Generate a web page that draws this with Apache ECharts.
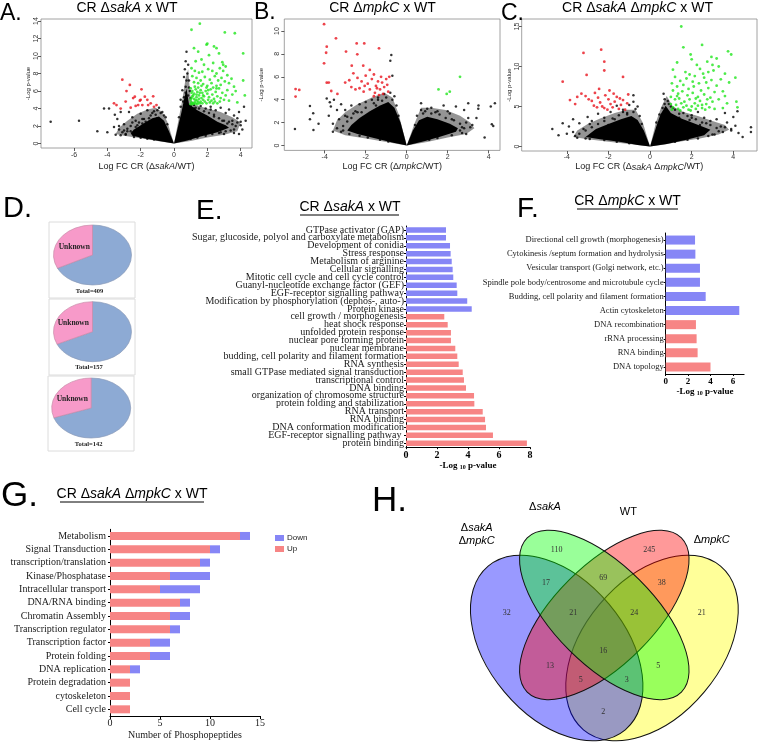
<!DOCTYPE html>
<html><head><meta charset="utf-8">
<script src="https://cdn.jsdelivr.net/npm/echarts@6/dist/echarts.min.js"></script>
<style>html,body{margin:0;padding:0;background:#fff}#c{width:760px;height:745px}</style>
</head><body><div id="c"></div>
<script>
// ---------- DATA ----------
// Volcano A: CR ΔsakA x WT  [logFC, -log p]
const aXTicks = [-6, -4, -2, 0, 2, 4];
const aYTicks = [0, 2, 4, 6, 8, 10, 12, 14];
const aRed = [[-3.6,4.6],[-3.45,4.4],[-3.1,7.3],[-2.85,6.0],[-2.65,6.7],[-2.45,5.2],[-2.35,5.35],[-2.3,4.3],[-2.15,4.4],[-2.05,4.9],[-1.95,6.2],[-1.9,4.4],[-1.75,5.35],[-1.55,4.4],[-1.4,4.6],[-1.25,5.4],[-1.05,4.4],[-2.6,4.1],[-2.0,5.0],[-1.6,5.0],[-3.2,4.0],[-1.2,4.2],[-2.9,4.8]];
const aGreen = [[1.55,13.7],[1.05,13.0],[3.05,12.7],[3.65,12.6],[1.95,11.3],[2.0,11.4],[2.4,11.1],[2.55,10.9],[1.2,10.9],[4.15,10.3],[1.45,10.5],[2.7,10.3],[2.1,10.1],[1.65,9.6],[2.9,9.3],[1.3,9.4],[1.8,9.0],[2.95,9.0],[3.1,8.8],[2.35,9.2],
[1.05,8.6],[1.25,8.3],[1.5,8.1],[1.7,8.2],[2.05,8.5],[2.3,8.3],[2.55,8.0],[2.75,8.6],[2.95,8.3],[3.2,7.8],[3.45,7.4],[1.1,7.7],[1.35,7.5],[1.6,7.2],[1.85,7.6],[2.15,7.3],[2.45,7.7],[2.65,7.2],[2.85,7.5],[3.05,7.1],[1.2,7.0],[1.45,6.9],[1.75,6.8],[2.0,6.6],[2.25,6.9],[2.55,6.6],[2.8,6.7],[3.3,6.9],[3.6,6.5],[4.25,5.5],[4.15,7.2],
[1.0,6.3],[1.1,6.0],[1.2,5.7],[1.3,6.2],[1.4,5.9],[1.5,5.5],[1.6,6.1],[1.7,5.8],[1.8,5.4],[1.9,6.0],[2.0,5.7],[2.1,5.3],[2.2,6.2],[2.3,5.6],[2.4,5.1],[2.5,5.9],[2.6,5.4],[2.7,6.3],[2.8,5.2],[2.9,5.8],[3.0,5.0],[3.1,5.5],[3.3,4.9],[3.5,5.6],[3.8,4.7],[1.0,5.0],[1.05,4.7],[1.1,5.4],[1.15,4.6],[1.2,5.1],[1.25,4.8],[1.3,4.6],[1.35,5.3],[1.4,4.9],[1.45,4.7],[1.5,5.1],[1.55,4.6],[1.6,4.8],[1.65,5.2],[1.7,4.6],[1.75,5.0],[1.85,4.8],[1.95,4.6],[2.05,5.0],[2.15,4.7],[2.25,4.9],[2.35,4.6],[2.45,4.8],[2.6,4.6],[2.75,4.8],[1.05,5.8],[1.15,5.5],[1.25,6.5],[1.35,5.6],[1.45,6.4],[1.55,5.8],[1.65,6.6],[1.75,5.5],[1.95,6.4],[2.05,6.1],[2.35,6.4],[2.55,6.3],[3.2,6.1],[3.7,6.0],[1.0,4.5],[1.1,4.5],[1.2,4.55],[1.4,4.5],[1.05,5.2],[1.3,5.0]];
const aBlack = [[-7.4,2.5],[-5.7,2.6],[-4.6,1.4],[-4.2,4.0],[-4.0,1.3],[-3.9,4.0],[-3.55,3.3],[-3.4,2.8],[-3.2,3.6],[-3.3,2.0],[-3.0,2.2],[-3.1,1.3],[-2.8,1.7],[-2.7,3.6],[-2.5,3.0],[-2.3,2.6],[-2.6,1.4],[-2.0,3.4],[-1.8,2.8],[-1.6,3.8],[-1.4,3.2],[-1.2,3.7],[-1.0,2.9],[-0.9,4.1],[-0.7,3.6],[-2.2,2.1],[-1.9,2.3],[-3.5,1.0],[-2.9,1.0],[-1.5,2.5],
[-0.4,2.2],[-0.5,3.0],[-0.8,3.5],[-1.1,3.3],[-1.5,2.9],[-1.7,2.5],[-2.1,2.4],[-2.3,1.9],[-2.6,2.0],[-2.8,1.4],[-3.0,1.5],[-2.9,1.1],[-2.4,0.75],[-2.0,0.65],[-1.6,0.55],[-1.2,0.45],[-3.3,1.6],[-3.2,0.95],[-1.0,3.8],[-0.6,3.2],[-1.3,3.5],[-1.9,2.8],[-2.5,2.4],[-3.6,1.9],
[0.75,10.5],[0.7,9.4],[0.85,9.0],[0.65,8.5],[0.8,8.0],[0.6,7.6],[0.9,7.2],[0.7,6.5],[0.95,6.0],[0.5,6.1],[0.85,5.5],[0.4,5.0],[0.6,5.3],[1.0,4.3],[1.3,4.1],[1.6,4.3],[1.9,4.0],[2.2,4.2],[2.5,3.8],[2.8,4.1],[3.1,3.5],[3.3,3.9],[3.6,3.2],[3.5,2.6],[3.8,2.9],[4.0,2.1],[4.3,2.6],[4.1,1.6],[3.9,1.1],[3.6,1.2],[3.0,1.1],[2.6,1.6],[3.2,2.3],[2.9,2.6],[2.4,3.1],[2.0,2.8],[1.7,3.3],[1.4,3.5],[1.1,3.6],[4.2,4.2],[3.9,3.6],[2.7,1.2],
[0.3,3.0],[0.4,4.2],[0.55,4.8],[0.7,5.8],[0.75,7.2],[0.9,6.4],[1.0,5.2],[1.2,4.4],[1.5,4.0],[1.8,3.7],[2.1,3.5],[2.4,3.3],[2.7,2.9],[3.0,2.6],[3.3,2.5],[3.5,2.2],[3.7,2.0],[3.4,1.5],[3.1,1.4],[2.8,1.3],[2.3,1.1],[1.9,0.9],[1.4,0.7],[1.0,0.55],[3.8,2.4],[4.0,2.5],[2.2,3.9],[1.2,4.0],[3.6,1.6]];
const aCoreLeft = [[0,0],[-0.3,1.4],[-0.6,2.6],[-0.9,3.1],[-1.3,2.9],[-1.9,2.2],[-2.4,1.6],[-2.6,1.2],[-2.5,0.9],[-1.8,0.6],[-0.9,0.3]];
const aCoreRight = [[0,0],[0.25,2.0],[0.45,3.6],[0.6,5.0],[0.75,6.3],[0.9,4.5],[1.4,3.8],[2.0,3.2],[2.6,2.5],[3.1,2.1],[3.3,1.8],[2.6,1.3],[1.6,0.8],[0.8,0.35]];
const aHaloLeft = [[0,0],[-0.4,2.5],[-0.7,3.6],[-1.1,4.1],[-1.6,3.9],[-2.2,3.4],[-2.8,2.6],[-3.3,1.8],[-3.5,1.1],[-3.0,0.9],[-2.0,0.6],[-1.0,0.3]];
const aHaloRight = [[0,0],[0.3,3.0],[0.5,5.0],[0.7,7.5],[0.85,8.5],[1.0,5.0],[1.3,4.4],[2.0,4.0],[2.8,3.6],[3.5,3.0],[4.0,2.4],[3.8,1.4],[3.0,1.0],[2.0,0.7],[1.0,0.3]];

// Volcano B: CR ΔmpkC x WT
const bXTicks = [-4, -2, 0, 2, 4];
const bYTicks = [0, 2, 4, 6, 8, 10];
const bRed = [[-4.03,10.6],[-3.45,9.36],[-3.9,8.63],[-3.93,8.1],[-2.96,8.2],[-2.44,8.92],[-2.07,8.92],[-2.41,7.96],[-1.35,8.49],[-2.68,6.97],[-2.12,6.97],[-4.03,7.18],[-3.9,5.49],[-3.8,5.5],[-3.68,4.76],[-3.38,4.5],[-5.42,4.93],[-5.24,4.85],[-5.42,4.27],
[-2.6,6.3],[-2.4,5.9],[-2.2,5.6],[-2.0,6.1],[-1.9,5.4],[-1.7,5.8],[-1.6,6.2],[-1.5,5.2],[-1.4,5.6],[-1.3,4.9],[-1.2,5.5],[-1.1,5.1],[-1.0,5.8],[-0.9,4.7],[-2.3,5.0],[-2.1,4.7],[-1.8,4.9],[-1.55,4.6],[-1.35,4.4],[-1.15,4.5],[-2.8,5.7],[-2.5,4.9],[-3.0,5.5],[-1.8,6.6],[-1.6,4.3],[-2.05,5.2],[-1.25,6.0],[-0.95,5.3],[-1.45,5.0],[-2.7,5.1],[-0.85,6.0]];
const bGreen = [[2.6,6.0],[1.55,4.9],[1.95,4.5],[2.1,4.7]];
const bBlack = [[-5.45,1.44],[-4.72,3.45],[-4.56,2.81],[-4.72,2.29],[-4.55,1.35],[-3.75,3.77],[-3.7,3.4],[-3.55,4.0],[-3.4,3.1],[-3.8,2.6],[-3.6,1.9],[-3.3,2.3],[-3.2,3.6],[-3.0,3.1],[-2.9,2.5],[-2.7,3.5],[-2.5,3.0],[-2.3,3.6],[-2.0,3.8],[-1.7,4.0],[-1.4,4.2],[-1.1,4.5],[-0.8,4.6],[-0.7,6.1],[-0.75,7.9],[-0.8,7.4],[-3.6,1.2],[-3.1,1.3],[-2.2,2.9],[-1.9,2.6],[-1.5,3.5],[-1.2,3.1],[-3.9,4.1],[-4.3,1.9],
[-0.4,2.6],[-0.5,3.5],[-0.7,4.0],[-1.0,4.2],[-1.2,3.9],[-1.6,3.7],[-2.0,3.3],[-2.4,2.9],[-2.7,2.4],[-2.9,2.1],[-3.1,1.7],[-3.2,1.2],[-2.8,1.0],[-2.3,0.85],[-1.9,0.7],[-1.3,0.5],[-0.9,0.35],[-3.4,1.5],[-2.6,2.8],[-1.4,4.0],[-0.6,4.3],[-3.0,2.6],
[0.7,3.7],[0.9,3.0],[1.2,3.3],[1.5,3.0],[1.8,3.5],[2.1,2.8],[2.4,3.4],[2.8,3.1],[3.0,2.4],[3.5,3.5],[3.4,2.4],[3.2,1.8],[2.7,1.6],[2.6,1.3],[2.9,1.0],[4.3,3.7],[4.15,1.85],[4.1,3.4],[3.0,3.7],[2.2,2.3],[1.4,2.9],[3.8,0.7],[4.22,1.7],[3.49,3.2],
[0.4,1.8],[0.5,2.6],[0.8,2.8],[1.2,2.8],[1.6,2.7],[1.9,2.4],[2.3,2.2],[2.6,1.9],[2.8,1.5],[2.7,1.1],[2.2,0.9],[1.5,0.65],[1.1,0.5],[0.7,3.1],[2.9,2.0],[3.1,1.6],[2.0,3.0],[1.0,3.2]];
const bCoreLeft = [[0,0],[-0.3,2.0],[-0.6,3.3],[-0.9,3.8],[-1.3,3.5],[-1.8,3.0],[-2.3,2.4],[-2.7,1.8],[-2.9,1.3],[-2.4,1.0],[-1.5,0.6],[-0.7,0.25]];
const bCoreRight = [[0,0],[0.3,1.3],[0.6,2.2],[1.0,2.5],[1.5,2.3],[2.1,1.9],[2.5,1.5],[2.4,1.2],[1.7,0.8],[0.9,0.4]];
const bHaloLeft = [[0,0],[-0.4,2.8],[-0.7,4.2],[-1.1,4.6],[-1.7,4.2],[-2.4,3.6],[-3.0,2.9],[-3.4,2.2],[-3.6,1.3],[-3.0,0.9],[-2.0,0.6],[-1.0,0.3]];
const bHaloRight = [[0,0],[0.4,2.0],[0.7,3.3],[1.2,3.3],[1.9,3.1],[2.6,2.6],[3.1,2.0],[3.3,1.5],[2.9,1.0],[2.0,0.7],[1.0,0.3]];

// Volcano C: CR ΔsakA ΔmpkC x WT
const cXTicks = [-4, -2, 0, 2, 4];
const cYTicks = [0, 5, 10, 15];
const cRed = [[-4.2,8.1],[-3.2,11.7],[-2.35,12.1],[-2.2,10.6],[-2.2,9.5],[-3.05,8.95],[-1.3,8.7],[-3.6,5.3],[-3.5,6.2],[-3.3,6.6],[-3.1,6.3],[-2.95,5.9],[-2.8,5.7],[-2.65,6.7],[-2.5,6.1],[-2.4,5.5],[-2.3,5.0],[-2.2,4.8],[-2.15,6.4],[-2.0,5.9],[-1.9,5.3],[-1.8,4.9],[-1.7,5.6],[-1.6,6.2],[-1.5,4.7],[-1.4,5.2],[-1.3,5.8],[-1.2,4.6],[-1.1,5.4],[-1.05,6.5],[-2.55,4.9],[-2.05,4.6],[-1.75,6.6],[-1.45,6.0],[-3.85,5.8],[-2.7,5.1],[-1.95,7.0],[-2.45,7.2]];
const cGreen = [[1.5,15.0],[1.6,12.4],[2.5,12.7],[3.75,11.9],[3.9,11.5],[2.95,11.2],[3.2,11.0],[2.0,10.9],[2.75,10.6],[2.25,10.2],[1.3,10.5],[3.3,10.0],[1.1,9.6],[1.7,9.3],[2.4,9.7],[2.8,9.3],[3.05,9.5],[3.6,9.1],[1.9,9.0],[2.15,8.8],[2.6,8.6],[3.4,8.4],[3.8,8.0],[4.1,8.6],[1.2,8.7],[1.45,8.2],[1.75,8.5],[2.05,8.1],[2.35,7.9],[2.7,8.0],[2.95,8.3],[3.2,7.6],[1.05,7.9],[1.3,7.5],[1.6,7.7],[1.85,7.2],[2.1,7.5],[2.45,7.0],[2.8,7.3],[3.1,6.8],[3.5,6.9],[1.1,7.0],[1.35,6.6],[1.55,6.9],[1.8,6.4],[2.05,6.7],[2.3,6.2],[2.6,6.5],[2.9,6.1],[3.3,5.9],[3.7,5.4],[4.2,4.9],[4.15,5.6],[1.0,6.2],[1.2,5.9],[1.4,6.0],[1.65,5.6],[1.9,5.9],[2.15,5.4],[2.4,5.7],[2.7,5.3],[3.0,5.6],[3.5,4.8],[1.0,5.3],[1.1,4.9],[1.25,5.2],[1.35,4.7],[1.5,5.4],[1.6,4.9],[1.75,5.1],[1.85,4.6],[2.0,5.0],[2.2,4.7],[2.3,5.1],[2.5,4.8],[2.65,4.6],[2.85,4.9],[3.1,4.7],[1.05,4.6],[1.45,4.5],[1.95,4.5],[2.75,5.9],[3.6,6.3],[2.55,9.1],[1.95,11.5],[3.0,10.2],[1.3,6.3],[2.2,6.0],[2.5,5.2]];
const cBlack = [[-4.7,2.2],[-4.0,1.6],[-4.4,1.4],[-3.9,2.5],[-3.4,2.9],[-3.0,3.7],[-2.5,4.1],[-2.8,3.2],[-3.2,2.2],[-2.2,3.6],[-1.9,4.3],[-1.6,5.1],[-1.3,4.6],[-1.0,5.2],[-0.8,6.4],[-0.8,5.6],[-0.6,5.0],[-1.1,4.2],[-2.0,2.7],[-2.6,1.9],[-3.6,1.3],[-3.1,1.0],[-1.7,3.4],[-2.3,1.5],[-4.2,2.9],[-3.7,3.4],
[-0.4,2.8],[-0.5,3.8],[-0.8,4.3],[-1.1,4.0],[-1.5,3.9],[-1.8,3.5],[-2.2,3.2],[-2.5,2.8],[-2.8,2.4],[-3.1,2.0],[-3.4,1.6],[-3.5,1.1],[-2.9,0.95],[-2.2,0.8],[-1.6,0.6],[-1.0,0.4],[-3.7,1.8],[-2.9,2.8],[-1.3,4.3],[-0.7,4.7],
[0.65,6.6],[0.7,5.9],[0.9,5.3],[1.2,4.6],[1.6,4.2],[2.0,3.9],[2.3,4.3],[2.6,3.6],[2.9,3.2],[2.7,2.9],[3.4,2.5],[3.2,3.4],[3.7,3.0],[4.0,3.7],[4.25,1.7],[4.85,2.4],[4.85,1.8],[3.9,2.2],[3.5,1.8],[3.0,1.5],[3.6,4.2],[4.2,4.4],[1.9,3.3],[1.4,3.6],[2.4,2.7],[4.45,1.2],
[0.3,3.0],[0.45,4.0],[0.6,4.8],[0.7,5.3],[0.85,5.7],[1.1,4.8],[1.4,4.1],[1.8,3.8],[2.2,3.4],[2.5,3.0],[2.9,2.7],[3.2,2.3],[3.3,1.9],[3.1,1.5],[2.8,1.3],[2.3,1.0],[1.8,0.85],[1.2,0.6],[3.6,2.4],[3.9,2.0],[4.1,2.6],[2.0,3.6],[1.0,5.0]];
const cCoreLeft = [[0,0],[-0.3,2.0],[-0.6,3.3],[-0.9,3.8],[-1.4,3.4],[-2.0,2.8],[-2.6,2.2],[-2.9,1.6],[-3.1,1.2],[-2.4,0.9],[-1.4,0.55],[-0.6,0.2]];
const cCoreRight = [[0,0],[0.3,2.5],[0.5,4.0],[0.75,5.1],[1.0,4.2],[1.5,3.5],[2.1,2.9],[2.6,2.4],[2.9,2.1],[2.6,1.4],[1.7,0.8],[0.8,0.3]];
const cHaloLeft = [[0,0],[-0.35,3.0],[-0.7,4.6],[-1.1,4.6],[-1.7,4.2],[-2.4,3.5],[-3.0,2.8],[-3.5,2.0],[-3.7,1.2],[-3.0,0.9],[-2.0,0.6],[-1.0,0.3]];
const cHaloRight = [[0,0],[0.3,3.2],[0.55,5.0],[0.8,6.3],[1.1,5.0],[1.6,4.3],[2.3,3.8],[3.0,3.2],[3.6,2.7],[3.8,2.1],[3.3,1.5],[2.4,1.0],[1.4,0.6],[0.7,0.25]];

// D: pies (unknown vs total)
const pieTotals = [409, 157, 142];
const pieUnknown = [132, 50, 43];

// E: CR ΔsakA x WT  (-log10 p)
const eBlueCats = ['GTPase activator (GAP)','Sugar, glucoside, polyol and carboxylate metabolism','Development of conidia','Stress response','Metabolism of arginine','Cellular signalling','Mitotic cell cycle and cell cycle control','Guanyl-nucleotide exchange factor (GEF)','EGF-receptor signalling pathway','Modification by phosphorylation (dephos-, auto-)','Protein kinase'];
const eBlueVals = [2.58, 2.58, 2.84, 2.88, 2.95, 3.01, 3.05, 3.27, 3.31, 3.95, 4.24];
const eRedCats = ['cell growth / morphogenesis','heat shock response','unfolded protein response','nuclear pore forming protein','nuclear membrane','budding, cell polarity and filament formation','RNA synthesis','small GTPase mediated signal transduction','transcriptional control','DNA binding','organization of chromosome structure','protein folding and stabilization','RNA transport','RNA binding','DNA conformation modification','EGF-receptor signalling pathway ','protein binding'];
const eRedVals = [2.47, 2.69, 2.9, 2.9, 3.18, 3.31, 3.4, 3.66, 3.74, 3.87, 4.39, 4.41, 4.95, 5.1, 5.16, 5.61, 7.8];

// F: CR ΔmpkC x WT
const fBlueCats = ['Directional cell growth (morphogenesis)','Cytokinesis /septum formation and hydrolysis','Vesicular transport (Golgi network, etc.)','Spindle pole body/centrosome and microtubule cycle','Budding, cell polarity and filament formation','Actin cytoskeleton'];
const fBlueVals = [2.62, 2.65, 3.06, 3.06, 3.57, 6.57];
const fRedCats = ['DNA recombination','rRNA processing','RNA binding','DNA topology'];
const fRedVals = [2.7, 2.76, 2.85, 4.0];

// G: CR ΔsakA ΔmpkC x WT
const gCats = ['Metabolism','Signal Transduction','transcription/translation','Kinase/Phosphatase','Intracellular transport','DNA/RNA binding','Chromatin Assembly','Transcription regulator','Transcription factor','Protein folding','DNA replication','Protein degradation','cytoskeleton','Cell cycle'];
const gUp   = [13, 10, 9, 6, 5, 7, 6, 6, 4, 4, 2, 2, 2, 2];
const gDown = [1, 1, 1, 4, 4, 1, 2, 1, 2, 2, 1, 0, 0, 0];

// H: Venn counts
const vennSets = ['ΔmpkC', 'ΔsakA ΔmpkC', 'WT', 'ΔsakA'];   // drawing order
const vennCounts = [32, 110, 245, 21, 17, 69, 38, 13, 5, 2, 21, 24, 5, 3, 16];

// ---------- LAYOUT / STYLE ----------
const SANS = 'Liberation Sans, Arial, sans-serif';
const SERIF = 'Liberation Serif, Times New Roman, serif';
const BLUE = '#8686f6', RED = '#f78585';

const pieLayout = [
  {cx:92.5, cy:255,   rx:39,   ry:30, box:[49,222,86,76], ux:74.3, uy:247,   tx:89.5, ty:291},
  {cx:92.5, cy:331.7, rx:39,   ry:30, box:[49,299,86,76], ux:73.3, uy:323.3, tx:89,   ty:367.7},
  {cx:91.2, cy:408,   rx:39.5, ry:30, box:[48,376,86,75], ux:72.3, uy:399.3, tx:88.7, ty:444}
];
const vennEllipse = {
  'ΔmpkC':       {cx:652,   cy:648, a:106.7, b:68.3, rot: 0.873, color:'rgba(255,255,0,0.4)'},
  'ΔsakA ΔmpkC': {cx:556.7, cy:648, a:106.7, b:68.3, rot:-0.873, color:'rgba(0,0,255,0.4)'},
  'WT':          {cx:604.3, cy:615, a:109,   b:49.7, rot: 0.785, color:'rgba(255,0,0,0.4)'},
  'ΔsakA':       {cx:604.3, cy:615, a:109,   b:49.7, rot:-0.785, color:'rgba(0,255,0,0.4)'}
};
const vennLabelPos = [[506.7,613.3],[556.7,550],[649.3,550],[701.7,613.3],[546,583.3],[603.3,578.3],[661.7,583.3],[550,666],[658.3,666],[603.3,711.7],[573.3,613.3],[634.3,613.3],[580.7,680],[626.7,680],[603.3,651]];

const italicRich = (size) => ({
  n: {fontSize:size, fontFamily:SANS, color:'#222'},
  i: {fontSize:size, fontFamily:SANS, color:'#222', fontStyle:'italic'}
});

function volcanoAxes(gi, xmin, xmax, ymin, ymax, xt, yt, xname, opt) {
  const x = {
    gridIndex:gi, type:'value', min:xmin, max:xmax,
    axisLine:{show:false, onZero:false}, splitLine:{show:false},
    axisTick:{show:true, customValues:xt, length:3, lineStyle:{color:'#333', width:0.8}},
    axisLabel:{customValues:xt, fontSize:7, color:'#333', fontFamily:SANS, margin:opt.xm},
    name:xname, nameLocation:'middle', nameGap:opt.xg,
    nameTextStyle:{rich:italicRich(9), fontSize:9}
  };
  const y = {
    gridIndex:gi, type:'value', min:ymin, max:ymax,
    axisLine:{show:false, onZero:false}, splitLine:{show:false},
    axisTick:{show:true, customValues:yt, length:3, lineStyle:{color:'#333', width:0.8}},
    axisLabel:{customValues:yt, fontSize:7, color:'#333', fontFamily:SANS, rotate:90, margin:opt.ym},
    name:'-Log p-value', nameLocation:'middle', nameGap:opt.yg, nameRotate:90,
    nameTextStyle:{fontSize:6, color:'#222', fontFamily:SANS}
  };
  return [x, y];
}
function volcanoSeries(i, black, red, green, haloL, haloR, coreL, coreR) {
  const sc = (d, c, z, s) => ({type:'scatter', xAxisIndex:i, yAxisIndex:i, data:d, symbol:'circle', symbolSize:s,
    itemStyle:{color:c}, silent:true, z:z, animation:false});
  const poly = (api, pts, fill) => ({type:'polygon', shape:{points: pts.map(v => api.coord(v))}, style:{fill:fill}});
  return [
    {type:'custom', xAxisIndex:i, yAxisIndex:i, data:[[0,0]], silent:true, z:1, animation:false,
      renderItem:(p, api) => ({type:'group', children:[
        poly(api, haloL, 'rgba(0,0,0,0.42)'), poly(api, haloR, 'rgba(0,0,0,0.42)'),
        poly(api, coreL, '#000'), poly(api, coreR, '#000')]})},
    sc(black, '#000', 2, 2.5), sc(red, '#e8141e', 3, 2.8), sc(green, '#22e61e', 3, 2.8)
  ];
}

const [axA, ayA] = volcanoAxes(0, -7.98, 4.68, -0.51, 14.23, aXTicks, aYTicks, '{n|Log FC CR (Δ}{i|sakA}{n|/WT)}', {xm:4, xg:14, ym:1.5, yg:8});
const [axB, ayB] = volcanoAxes(1, -5.97, 4.55, -0.43, 11.05, bXTicks, bYTicks, '{n|Log FC CR (Δ}{i|mpkC}{n|/WT)}', {xm:3, xg:12, ym:4, yg:20});
const [axC, ayC] = volcanoAxes(2, -6.17, 5.14, -0.56, 15.94, cXTicks, cYTicks, '{n|Log FC CR (Δ}{i|sakA}{n| Δ}{i|mpkC}{n|/WT)}', {xm:3, xg:11.5, ym:1.5, yg:7});

const catAxis = (gi, cats, size, gap) => ({
  gridIndex:gi, type:'category', data:cats, inverse:true,
  axisLine:{show:true, lineStyle:{color:'#000', width:1}},
  axisTick:{show:true, length:2, alignWithLabel:true, lineStyle:{color:'#000'}},
  axisLabel:{interval:0, fontSize:size, fontFamily:SERIF, color:'#1a1a1a', margin:gap}
});
const pvalName = (size) => ({
  name:'{a|-Log }{s|10}{a| p-value}', nameLocation:'middle',
  nameTextStyle:{rich:{a:{fontSize:size, fontFamily:SERIF, fontWeight:'bold', color:'#000'},
                       s:{fontSize:size-3, fontFamily:SERIF, fontWeight:'bold', color:'#000', padding:[3,0,0,0]}}}
});

const eCats = eBlueCats.concat(eRedCats);
const fCats = fBlueCats.concat(fRedCats);
const pad = (n) => Array(n).fill('-');

const option = {
  animation:false,
  backgroundColor:'#fff',
  grid:[
    {left:41, top:19, width:211, height:129, show:true, borderColor:'#8a8a8a', borderWidth:0.8},
    {left:284.3, top:19, width:215.7, height:131.4, show:true, borderColor:'#8a8a8a', borderWidth:0.8},
    {left:521.7, top:19, width:235.3, height:132, show:true, borderColor:'#8a8a8a', borderWidth:0.8},
    {left:406, top:226, width:124, height:221.2},
    {left:665.7, top:233, width:78.4, height:141},
    {left:110, top:529.3, width:150, height:186.7}
  ],
  xAxis:[axA, axB, axC,
    Object.assign({gridIndex:3, type:'value', min:0, max:8, interval:2, splitLine:{show:false},
      axisLine:{show:true, lineStyle:{color:'#000'}}, axisTick:{show:true, length:2, lineStyle:{color:'#000'}},
      axisLabel:{fontSize:10, fontFamily:SERIF, fontWeight:'bold', color:'#000', margin:3}, nameGap:13}, pvalName(9)),
    Object.assign({gridIndex:4, type:'value', min:0, max:7, splitLine:{show:false},
      axisLine:{show:true, lineStyle:{color:'#000'}}, axisTick:{show:true, length:2, customValues:[0,2,4,6], lineStyle:{color:'#000'}},
      axisLabel:{customValues:[0,2,4,6], fontSize:9, fontFamily:SERIF, fontWeight:'bold', color:'#000', margin:3}, nameGap:13}, pvalName(9)),
    {gridIndex:5, type:'value', min:0, max:15, interval:5, splitLine:{show:false},
      axisLine:{show:true, lineStyle:{color:'#000'}}, axisTick:{show:true, length:3, lineStyle:{color:'#000'}},
      axisLabel:{fontSize:10, fontFamily:SERIF, color:'#222', margin:2},
      name:'Number of Phosphopeptides', nameLocation:'middle', nameGap:14,
      nameTextStyle:{fontSize:10, fontFamily:SERIF, color:'#222'}}
  ],
  yAxis:[ayA, ayB, ayC, catAxis(3, eCats, 10, 2), catAxis(4, fCats, 8.5, 2), catAxis(5, gCats, 10, 4)],
  legend:{data:['Down','Up'], left:270, top:529, orient:'vertical', itemWidth:9, itemHeight:6, itemGap:3,
    icon:'rect', textStyle:{fontSize:8, fontFamily:SANS, color:'#222', padding:[0,0,0,-2]}},
  series:[].concat(
    volcanoSeries(0, aBlack, aRed, aGreen, aHaloLeft, aHaloRight, aCoreLeft, aCoreRight),
    volcanoSeries(1, bBlack, bRed, bGreen, bHaloLeft, bHaloRight, bCoreLeft, bCoreRight),
    volcanoSeries(2, cBlack, cRed, cGreen, cHaloLeft, cHaloRight, cCoreLeft, cCoreRight),
    [
      {type:'bar', xAxisIndex:3, yAxisIndex:3, stack:'e', data:eBlueVals.concat(pad(eRedVals.length)), itemStyle:{color:BLUE}, barCategoryGap:'30%'},
      {type:'bar', xAxisIndex:3, yAxisIndex:3, stack:'e', data:pad(eBlueVals.length).concat(eRedVals), itemStyle:{color:RED}, barCategoryGap:'30%'},
      {type:'bar', xAxisIndex:4, yAxisIndex:4, stack:'f', data:fBlueVals.concat(pad(fRedVals.length)), itemStyle:{color:BLUE}, barCategoryGap:'36%'},
      {type:'bar', xAxisIndex:4, yAxisIndex:4, stack:'f', data:pad(fBlueVals.length).concat(fRedVals), itemStyle:{color:RED}, barCategoryGap:'36%'},
      {type:'bar', name:'Up', xAxisIndex:5, yAxisIndex:5, stack:'g', data:gUp, itemStyle:{color:RED}, barCategoryGap:'40%'},
      {type:'bar', name:'Down', xAxisIndex:5, yAxisIndex:5, stack:'g', data:gDown, itemStyle:{color:BLUE}, barCategoryGap:'40%'},
      // D: pies
      {type:'custom', coordinateSystem:'none', silent:true,
        data: pieUnknown.map((u, i) => [u, pieTotals[i]]),
        renderItem:(p, api) => {
          const L = pieLayout[p.dataIndex];
          const f = api.value(0) / api.value(1);
          const top = -Math.PI / 2;
          return {type:'group', children:[
            {type:'rect', shape:{x:L.box[0], y:L.box[1], width:L.box[2], height:L.box[3]}, style:{fill:'#fff', stroke:'#dcdcdc', lineWidth:1}},
            {type:'group', x:L.cx, y:L.cy, scaleX:L.rx / L.ry, children:[
              {type:'sector', shape:{cx:0, cy:0, r:L.ry, r0:0, startAngle:top, endAngle:top + (1 - f) * 2 * Math.PI, clockwise:true},
               style:{fill:'#8daad4', stroke:'#8a9ab8', lineWidth:0.6}},
              {type:'sector', shape:{cx:0, cy:0, r:L.ry, r0:0, startAngle:top - f * 2 * Math.PI, endAngle:top, clockwise:true},
               style:{fill:'#f79ac9', stroke:'#c889a8', lineWidth:0.6}}
            ]},
            {type:'text', x:L.ux, y:L.uy, style:{text:'Unknown', fontSize:7.5, fontWeight:'bold', fontFamily:SERIF, fill:'#222', align:'center', verticalAlign:'middle'}},
            {type:'text', x:L.tx, y:L.ty, style:{text:'Total=' + api.value(1), fontSize:6.5, fontWeight:'bold', fontFamily:SERIF, fill:'#222', align:'center', verticalAlign:'middle'}}
          ]};
        }},
      // H: Venn ellipses
      {type:'custom', coordinateSystem:'none', silent:true, data: vennSets.map((s, i) => [i]),
        renderItem:(p, api) => {
          const E = vennEllipse[vennSets[p.dataIndex]];
          return {type:'ellipse', x:E.cx, y:E.cy, rotation:E.rot, shape:{cx:0, cy:0, rx:E.a, ry:E.b},
            style:{fill:E.color, stroke:'#111', lineWidth:1}};
        }},
      // H: Venn counts
      {type:'custom', coordinateSystem:'none', silent:true, z:5, data: vennCounts.map(v => [v]),
        renderItem:(p, api) => {
          const P = vennLabelPos[p.dataIndex];
          return {type:'text', x:P[0], y:P[1], style:{text:String(api.value(0)), fontSize:8, fontFamily:SERIF, fill:'#333', align:'center', verticalAlign:'middle'}};
        }}
    ]
  ),
  graphic:[
    {type:'text', x:0, y:13.5, style:{text:'A.', fontSize:23, fontFamily:SANS, fill:'#000', verticalAlign:'middle'}},
    {type:'text', x:254, y:13, style:{text:'B.', fontSize:23, fontFamily:SANS, fill:'#000', verticalAlign:'middle'}},
    {type:'text', x:501, y:13.5, style:{text:'C.', fontSize:23, fontFamily:SANS, fill:'#000', verticalAlign:'middle'}},
    {type:'text', x:3, y:209, style:{text:'D.', fontSize:29, fontFamily:SANS, fill:'#000', verticalAlign:'middle'}},
    {type:'text', x:196, y:211, style:{text:'E.', fontSize:28, fontFamily:SANS, fill:'#000', verticalAlign:'middle'}},
    {type:'text', x:517, y:209, style:{text:'F.', fontSize:28, fontFamily:SANS, fill:'#000', verticalAlign:'middle'}},
    {type:'text', x:1, y:496.5, style:{text:'G.', fontSize:35, fontFamily:SANS, fill:'#000', verticalAlign:'middle'}},
    {type:'text', x:372, y:501.5, style:{text:'H.', fontSize:35, fontFamily:SANS, fill:'#000', verticalAlign:'middle'}},
    {type:'text', x:127, y:8, style:{text:'{n|CR Δ}{i|sakA}{n| x WT}', rich:italicRich(14), align:'center', verticalAlign:'middle'}},
    {type:'text', x:382.5, y:8, style:{text:'{n|CR Δ}{i|mpkC}{n| x WT}', rich:italicRich(14), align:'center', verticalAlign:'middle'}},
    {type:'text', x:637.5, y:8, style:{text:'{n|CR Δ}{i|sakA}{n| Δ}{i|mpkC}{n| x WT}', rich:italicRich(14), align:'center', verticalAlign:'middle'}},
    {type:'text', x:350, y:207, style:{text:'{n|CR Δ}{i|sakA}{n| x WT}', rich:italicRich(14), align:'center', verticalAlign:'middle'}},
    {type:'line', shape:{x1:300, y1:215, x2:399, y2:215}, style:{stroke:'#000', lineWidth:1}},
    {type:'text', x:627.5, y:201, style:{text:'{n|CR Δ}{i|mpkC}{n| x WT}', rich:italicRich(14), align:'center', verticalAlign:'middle'}},
    {type:'line', shape:{x1:577, y1:209, x2:678, y2:209}, style:{stroke:'#000', lineWidth:1}},
    {type:'text', x:132, y:494, style:{text:'{n|CR Δ}{i|sakA}{n| Δ}{i|mpkC}{n| x WT}', rich:italicRich(14), align:'center', verticalAlign:'middle'}},
    {type:'line', shape:{x1:60, y1:502, x2:204, y2:502}, style:{stroke:'#000', lineWidth:1}},
    {type:'text', x:476.7, y:528, style:{text:'{n|Δ}{i|sakA}', rich:italicRich(11), align:'center', verticalAlign:'middle'}},
    {type:'text', x:476.7, y:541, style:{text:'{n|Δ}{i|mpkC}', rich:italicRich(11), align:'center', verticalAlign:'middle'}},
    {type:'text', x:545, y:507.3, style:{text:'{n|Δ}{i|sakA}', rich:italicRich(11), align:'center', verticalAlign:'middle'}},
    {type:'text', x:628.3, y:511.7, style:{text:'{n|WT}', rich:italicRich(11), align:'center', verticalAlign:'middle'}},
    {type:'text', x:711.7, y:540, style:{text:'{n|Δ}{i|mpkC}', rich:italicRich(11), align:'center', verticalAlign:'middle'}}
  ]
};

const chart = echarts.init(document.getElementById('c'), null, {renderer:'canvas', width:760, height:745});
chart.setOption(option);
</script></body></html>
